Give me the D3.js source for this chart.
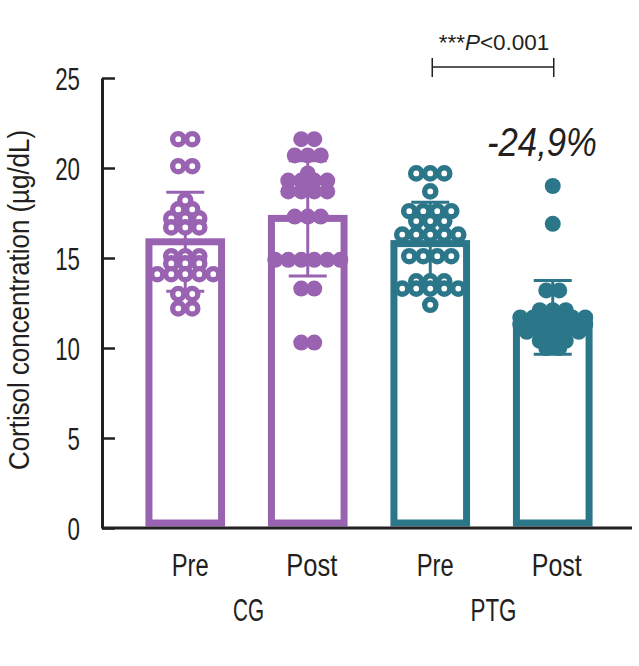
<!DOCTYPE html>
<html>
<head>
<meta charset="utf-8">
<script src="https://cdn.jsdelivr.net/npm/d3@7/dist/d3.min.js"></script>
<style>
  html, body { margin: 0; padding: 0; background: #ffffff; }
  svg { display: block; }
  text { font-family: "Liberation Sans", Arial, sans-serif; fill: #231f20; }
</style>
</head>
<body>
<svg id="chart" width="639" height="666"></svg>
<script>
// ---------------- data ----------------
const barKeys    = ["CG-Pre", "CG-Post", "PTG-Pre", "PTG-Post"];
const categories = ["Pre", "Post", "Pre", "Post"];
const groupOf    = ["CG", "CG", "PTG", "PTG"];
const groupNames = ["CG", "PTG"];
const means      = [15.9, 17.2, 15.8, 11.7];
const sds        = [2.75, 3.2, 2.3, 2.05];
const hollow     = [true, false, true, false];

const cgPre = [21.6, 21.6, 20.1, 20.1, 18.2, 17.7, 17.7, 17.2, 17.2, 17.2,
               16.7, 16.7, 16.7, 15.1, 15.1, 15.1, 14.7, 14.7, 14.7,
               14.1, 14.1, 14.1, 14.1, 14.1, 13.0, 13.0, 12.2, 12.2];
const cgPost = [21.6, 21.6, 20.7, 20.7, 20.7, 19.7, 19.3, 19.3, 19.3, 19.3,
                18.7, 18.7, 18.7, 18.7, 17.3, 17.3, 17.3,
                14.9, 14.9, 14.9, 14.9, 14.9, 14.9, 13.3, 13.3, 10.3, 10.3];
const ptgPre = [19.7, 19.7, 19.7, 18.7, 17.6, 17.6, 17.6, 17.6, 17.05, 17.05, 17.05,
                16.3, 16.3, 16.3, 16.3, 16.3, 15.1, 15.1, 15.1, 15.1,
                13.7, 13.7, 13.7, 13.3, 13.3, 13.3, 13.3, 13.3, 12.4];
const ptgPost = [19.0, 16.9, 13.2, 13.2, 12.1, 12.1, 12.1,
                 11.7, 11.7, 11.7, 11.7, 11.7, 11.7,
                 11.3, 11.3, 11.3, 11.3, 11.3, 11.3,
                 10.9, 10.9, 10.9, 10.9, 10.9, 10.4, 10.4, 10.4, 10.0, 10.0];
const pointSets = [cgPre, cgPost, ptgPre, ptgPost];

const yTicks = [0, 5, 10, 15, 20, 25];
const yTitle = "Cortisol concentration (µg/dL)";
const sigLabel = { stars: "***", p: "P", rest: "<0.001" };
const changeLabel = "-24,9%";

// ---------------- styling ----------------
const purple = "#9963b2";
const teal   = "#2b7689";
const groupColor = { CG: purple, PTG: teal };
const ink = "#231f20";
const catWidths = [37, 51, 37, 50];
const groupWidths = { CG: 31, PTG: 46 };

// condense a text element horizontally to a given share of its natural width
function squeeze(sel, factor) {
  sel.each(function () {
    const L = this.getComputedTextLength();
    d3.select(this).attr("textLength", L * factor).attr("lengthAdjust", "spacingAndGlyphs");
  });
}

const svg = d3.select("#chart");
svg.append("rect").attr("width", 639).attr("height", 666).attr("fill", "#fff");

const y = d3.scaleLinear().domain([0, 25]).range([528, 78]);
const x = d3.scaleBand().domain(barKeys).range([124, 614])
  .paddingInner(0.35).paddingOuter(0.175);
const bw = x.bandwidth();
const cx = k => x(k) + bw / 2;

const barStroke = 7;

// bars
svg.append("g").selectAll("rect").data(barKeys).join("rect")
  .attr("x", k => x(k) + barStroke / 2)
  .attr("width", bw - barStroke)
  .attr("y", (k, i) => y(means[i]))
  .attr("height", (k, i) => y(0) - 1.5 - barStroke / 2 - y(means[i]))
  .attr("fill", "#fff")
  .attr("stroke", (k, i) => groupColor[groupOf[i]])
  .attr("stroke-width", barStroke);

// error bars
const capW = 38;
const eg = svg.append("g");
barKeys.forEach((k, i) => {
  const c = groupColor[groupOf[i]];
  const hi = y(means[i] + sds[i]), lo = y(means[i] - sds[i]);
  eg.append("line").attr("x1", cx(k)).attr("x2", cx(k)).attr("y1", hi).attr("y2", lo)
    .attr("stroke", c).attr("stroke-width", 3);
  [hi, lo].forEach(yy => eg.append("line")
    .attr("x1", cx(k) - capW / 2).attr("x2", cx(k) + capW / 2)
    .attr("y1", yy).attr("y2", yy).attr("stroke", c).attr("stroke-width", 3));
});

// points: identical values form a centred row
function rows(values, spacing) {
  const counts = d3.rollup(values, v => v.length, d => d);
  const seen = new Map();
  return values.map(v => {
    const n = counts.get(v);
    const j = seen.get(v) || 0;
    seen.set(v, j + 1);
    return { v, dx: (j - (n - 1) / 2) * spacing };
  });
}
const pg = svg.append("g");
barKeys.forEach((k, i) => {
  const c = groupColor[groupOf[i]];
  const pts = rows(pointSets[i], hollow[i] ? 14 : 13);
  const sel = pg.append("g").selectAll("circle").data(pts).join("circle")
    .attr("cx", d => cx(k) + d.dx)
    .attr("cy", d => y(d.v));
  if (hollow[i]) {
    sel.attr("r", 5.6).attr("fill", "#fff").attr("stroke", c).attr("stroke-width", 5.4);
  } else {
    sel.attr("r", 8).attr("fill", c);
  }
});

// y axis
const yAxis = d3.axisLeft(y).tickValues(yTicks).tickSizeInner(-13).tickSizeOuter(0).tickPadding(22);
const ya = svg.append("g").attr("transform", "translate(102,0)").call(yAxis);
ya.attr("font-family", null);
ya.select(".domain").attr("stroke", ink).attr("stroke-width", 3);
ya.selectAll(".tick line").attr("stroke", ink).attr("stroke-width", 2.5);
ya.selectAll(".tick text").attr("font-size", 31).attr("fill", ink).attr("dy", "0.36em")
  .call(squeeze, 0.72);

// x axis line
const xa = d3.axisBottom(x).tickSize(0).tickFormat("");
const xg = svg.append("g").attr("transform", "translate(0,528)").call(xa);
xg.select(".domain").attr("d", "M102,0H632").attr("stroke", ink).attr("stroke-width", 3);

// category labels
svg.append("g").selectAll("text").data(barKeys).join("text")
  .attr("x", (k, i) => cx(k) + (i % 2 === 0 ? 5 : 4))
  .attr("y", 576)
  .attr("text-anchor", "middle")
  .attr("font-size", 31)
  .attr("textLength", (k, i) => catWidths[i])
  .attr("lengthAdjust", "spacingAndGlyphs")
  .text((k, i) => categories[i]);

// group labels
groupNames.forEach(g => {
  const ks = barKeys.filter((k, i) => groupOf[i] === g);
  const mid = (cx(ks[0]) + cx(ks[ks.length - 1])) / 2;
  svg.append("text").attr("x", mid + 2).attr("y", 621)
    .attr("text-anchor", "middle").attr("font-size", 31)
    .attr("textLength", groupWidths[g]).attr("lengthAdjust", "spacingAndGlyphs")
    .text(g);
});

// y title
svg.append("text")
  .attr("transform", "translate(29,300) rotate(-90)")
  .attr("text-anchor", "middle")
  .attr("font-size", 29)
  .attr("textLength", 340).attr("lengthAdjust", "spacingAndGlyphs")
  .text(yTitle);

// significance bracket
const bx1 = cx("PTG-Pre") + 2, bx2 = cx("PTG-Post") + 1, by = 67;
const bg = svg.append("g").attr("stroke", ink).attr("stroke-width", 1.5);
bg.append("line").attr("x1", bx1).attr("x2", bx2).attr("y1", by).attr("y2", by);
bg.append("line").attr("x1", bx1).attr("x2", bx1).attr("y1", by - 9).attr("y2", by + 10);
bg.append("line").attr("x1", bx2).attr("x2", bx2).attr("y1", by - 9).attr("y2", by + 10);
const st = svg.append("text").attr("x", (bx1 + bx2) / 2 + 1).attr("y", 50)
  .attr("text-anchor", "middle").attr("font-size", 22.5);
st.append("tspan").text(sigLabel.stars);
st.append("tspan").attr("font-style", "italic").text(sigLabel.p);
st.append("tspan").text(sigLabel.rest);

// percent change annotation
svg.append("text").attr("x", 542).attr("y", 156)
  .attr("text-anchor", "middle")
  .attr("font-size", 40)
  .attr("font-style", "italic")
  .attr("textLength", 110).attr("lengthAdjust", "spacingAndGlyphs")
  .text(changeLabel);
</script>
</body>
</html>
